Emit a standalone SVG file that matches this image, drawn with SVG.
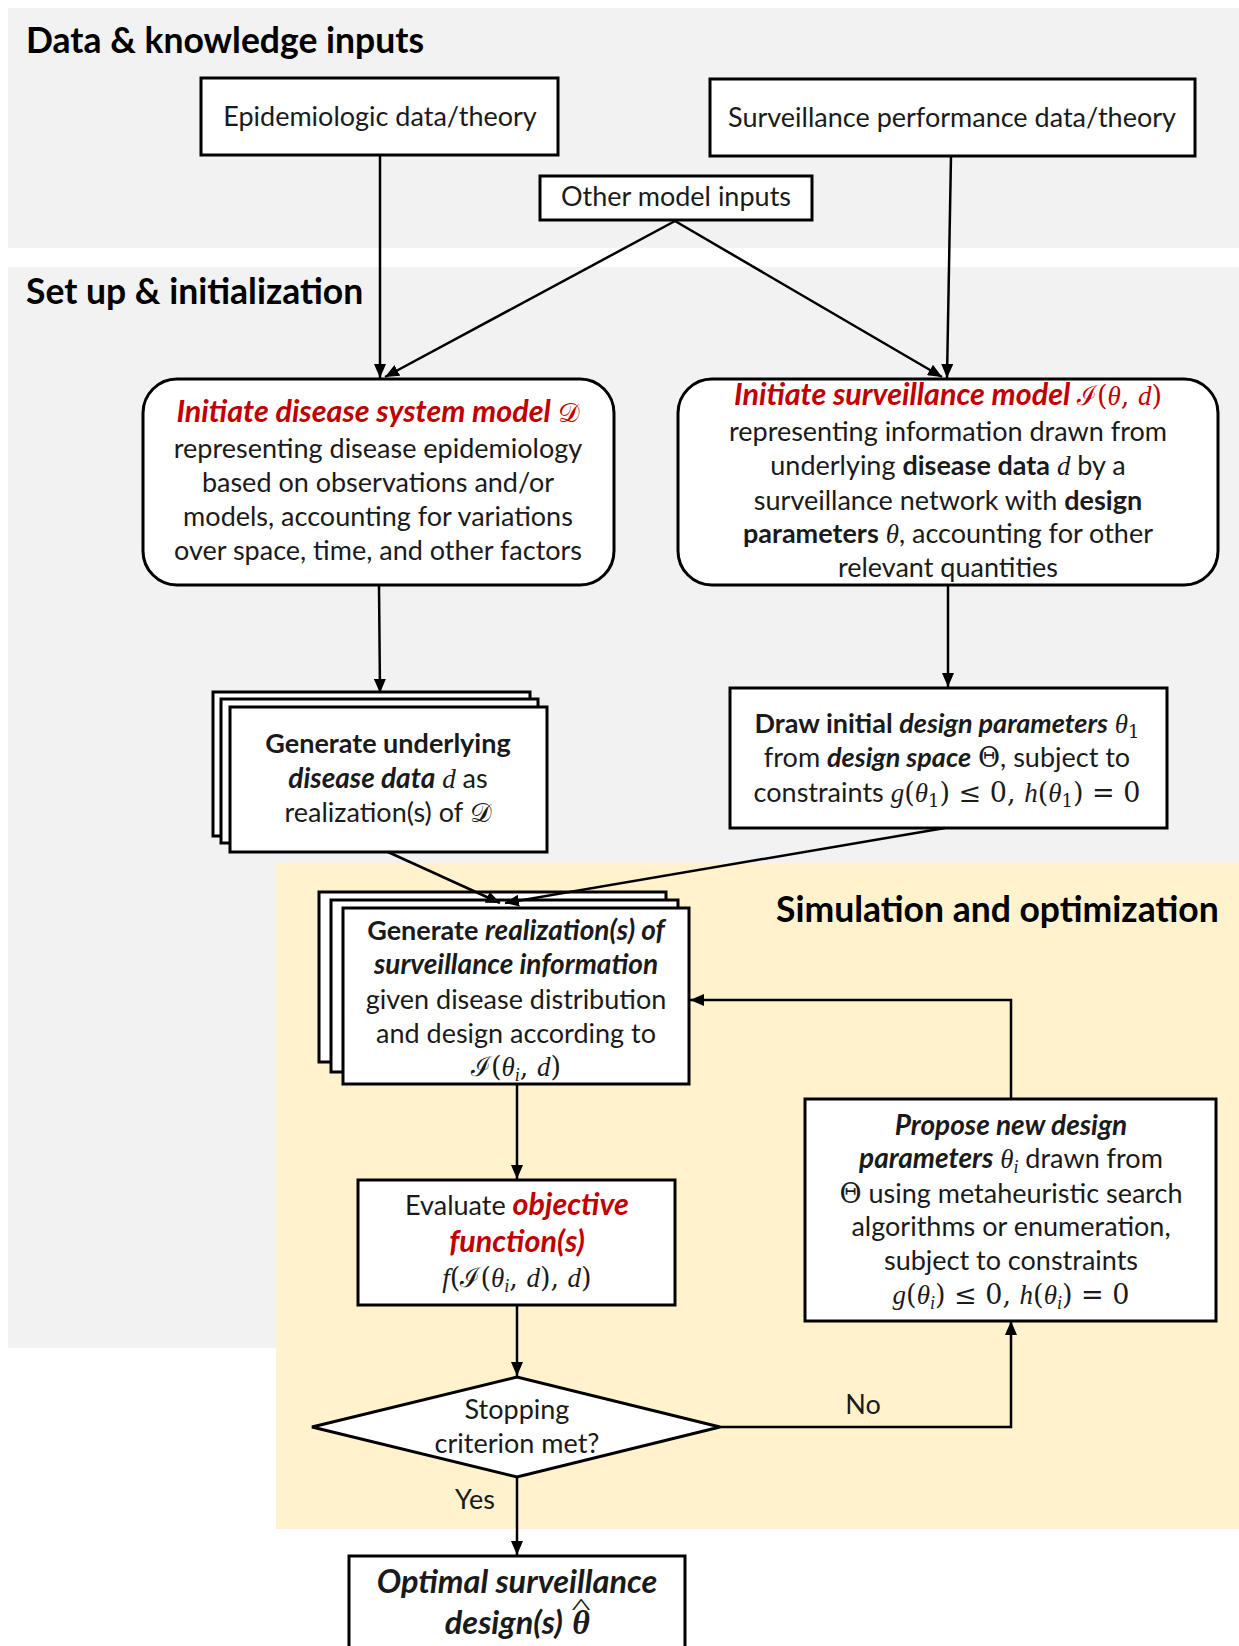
<svg xmlns="http://www.w3.org/2000/svg" width="1239" height="1646" viewBox="0 0 1239 1646">
<style>
text{font-family:Lato,'Liberation Sans',sans-serif;font-size:27px;fill:#1a1a1a;text-anchor:middle}
.t{font-size:35.5px;font-weight:700;text-anchor:start;fill:#000}
.b{font-weight:700}
.bi{font-weight:700;font-style:italic;font-size:28px}
.r{fill:#C00000}
.bi.r{font-size:30.5px}
.m{font-family:'Liberation Serif','DejaVu Serif',serif;font-style:italic;font-weight:400}
.s{font-family:'DejaVu Serif','Liberation Serif',serif;font-style:normal;font-weight:400}
.sub{font-size:18px}
.box{fill:#fff;stroke:#000;stroke-width:3}
.ln{fill:none;stroke:#000;stroke-width:2.5}
</style>
<defs>
<marker id="ah" markerUnits="userSpaceOnUse" viewBox="0 0 14 12" markerWidth="14" markerHeight="12" refX="14" refY="6" orient="auto">
<path d="M0,0 L14,6 L0,12 z" fill="#000"/>
</marker>
</defs>
<g id="panels">
<rect x="8" y="8" width="1231" height="240" fill="#F2F2F2"/>
<rect x="8" y="267" width="1231" height="1081" fill="#F2F2F2"/>
<rect x="276" y="863" width="963" height="666" fill="#FFF2CC"/>
<text class="t" x="26" y="53">Data &amp; knowledge inputs</text>
<text class="t" x="26" y="304">Set up &amp; initialization</text>
<text class="t" x="776" y="922">Simulation and optimization</text>
</g>
<g id="epi">
<rect class="box" x="201" y="78" width="357" height="77"/>
<text x="380" y="126">Epidemiologic data/theory</text>
</g>
<g id="survperf">
<rect class="box" x="710" y="79" width="485" height="77"/>
<text x="952" y="127">Surveillance performance data/theory</text>
</g>
<g id="other">
<rect class="box" x="540" y="176" width="272" height="44"/>
<text x="676" y="206">Other model inputs</text>
</g>
<g id="diseasemodel">
<rect class="box" x="143" y="379" width="471" height="206" rx="34"/>
<text x="378" y="422"><tspan class="bi r">Initiate disease system model </tspan><tspan class="s r">𝒟</tspan></text>
<text x="378" y="458">representing disease epidemiology</text>
<text x="378" y="492">based on observations and/or</text>
<text x="378" y="526">models, accounting for variations</text>
<text x="378" y="560">over space, time, and other factors</text>
</g>
<g id="survmodel">
<rect class="box" x="678" y="379" width="540" height="206" rx="34"/>
<text x="948" y="405"><tspan class="bi r">Initiate surveillance model </tspan><tspan class="s r">ℐ(</tspan><tspan class="m r">θ</tspan><tspan class="s r">, </tspan><tspan class="m r">d</tspan><tspan class="s r">)</tspan></text>
<text x="948" y="441">representing information drawn from</text>
<text x="948" y="475">underlying <tspan class="b">disease data</tspan> <tspan class="m">d</tspan> by a</text>
<text x="948" y="510">surveillance network with <tspan class="b">design</tspan></text>
<text x="948" y="543"><tspan class="b">parameters</tspan> <tspan class="m">θ</tspan>, accounting for other</text>
<text x="948" y="577">relevant quantities</text>
</g>
<g id="diseasedata">
<rect class="box" x="213" y="692" width="317" height="144"/>
<rect class="box" x="221" y="699" width="317" height="144"/>
<rect class="box" x="230" y="707" width="317" height="145"/>
<text x="388" y="753" class="b">Generate underlying</text>
<text x="388" y="788"><tspan class="bi">disease data</tspan> <tspan class="m">d</tspan> as</text>
<text x="388" y="822">realization(s) of <tspan class="s">𝒟</tspan></text>
</g>
<g id="drawinitial">
<rect class="box" x="730" y="688" width="437" height="140"/>
<text x="947" y="733"><tspan class="b">Draw initial </tspan><tspan class="bi" style="font-size:27px">design parameters</tspan> <tspan class="m">θ</tspan><tspan class="s sub" dy="5">1</tspan></text>
<text x="947" y="767">from <tspan class="bi" style="font-size:27px">design space</tspan> <tspan class="s">Θ</tspan>, subject to</text>
<text x="947" y="802">constraints <tspan class="m">g</tspan><tspan class="s">(</tspan><tspan class="m">θ</tspan><tspan class="s sub" dy="5">1</tspan><tspan class="s" dy="-5">) ≤ 0, </tspan><tspan class="m">h</tspan><tspan class="s">(</tspan><tspan class="m">θ</tspan><tspan class="s sub" dy="5">1</tspan><tspan class="s" dy="-5">) = 0</tspan></text>
</g>
<g id="survinfo">
<rect class="box" x="319" y="892" width="347" height="170"/>
<rect class="box" x="331" y="900" width="347" height="172"/>
<rect class="box" x="343" y="908" width="346" height="176"/>
<text x="516" y="940"><tspan class="b">Generate </tspan><tspan class="bi">realization(s) of</tspan></text>
<text x="516" y="974" class="bi">surveillance information</text>
<text x="516" y="1009">given disease distribution</text>
<text x="516" y="1043">and design according to</text>
<text x="516" y="1076"><tspan class="s">ℐ(</tspan><tspan class="m">θ</tspan><tspan class="m sub" dy="5">i</tspan><tspan class="s" dy="-5">, </tspan><tspan class="m">d</tspan><tspan class="s">)</tspan></text>
</g>
<g id="evaluate">
<rect class="box" x="358" y="1180" width="317" height="125"/>
<text x="517" y="1215">Evaluate <tspan class="bi r">objective</tspan></text>
<text x="517" y="1252" class="bi r">function(s)</text>
<text x="517" y="1287"><tspan class="m">f</tspan><tspan class="s">(ℐ(</tspan><tspan class="m">θ</tspan><tspan class="m sub" dy="5">i</tspan><tspan class="s" dy="-5">, </tspan><tspan class="m">d</tspan><tspan class="s">), </tspan><tspan class="m">d</tspan><tspan class="s">)</tspan></text>
</g>
<g id="propose">
<rect class="box" x="805" y="1099" width="411" height="222"/>
<text x="1011" y="1135" class="bi">Propose new design</text>
<text x="1011" y="1168"><tspan class="bi">parameters</tspan> <tspan class="m">θ</tspan><tspan class="m sub" dy="5">i</tspan><tspan dy="-5"> drawn from</tspan></text>
<text x="1011" y="1203"><tspan class="s">Θ</tspan> using metaheuristic search</text>
<text x="1011" y="1236">algorithms or enumeration,</text>
<text x="1011" y="1270">subject to constraints</text>
<text x="1011" y="1304"><tspan class="m">g</tspan><tspan class="s">(</tspan><tspan class="m">θ</tspan><tspan class="m sub" dy="5">i</tspan><tspan class="s" dy="-5">) ≤ 0, </tspan><tspan class="m">h</tspan><tspan class="s">(</tspan><tspan class="m">θ</tspan><tspan class="m sub" dy="5">i</tspan><tspan class="s" dy="-5">) = 0</tspan></text>
</g>
<g id="stopping">
<polygon class="box" points="312,1427 517,1377 720,1427 517,1477"/>
<text x="517" y="1419">Stopping</text>
<text x="517" y="1453">criterion met?</text>
</g>
<g id="optimal">
<rect class="box" x="349" y="1556" width="336" height="130"/>
<text x="517" y="1593" class="bi" style="font-size:32.5px">Optimal surveillance</text>
<text x="563" y="1634" class="bi" style="font-size:32.5px;text-anchor:end">design(s)</text>
<text x="581" y="1634" class="m" style="font-size:34px;font-weight:700">θ</text>
<text transform="translate(581,1614) scale(1.7,1)" class="m" style="font-size:24px;font-style:normal">^</text>
</g>
<g id="connectors">
<line class="ln" x1="380" y1="155" x2="380" y2="378" marker-end="url(#ah)"/>
<line class="ln" x1="675" y1="221" x2="385" y2="377" marker-end="url(#ah)"/>
<line class="ln" x1="951" y1="156" x2="947" y2="378" marker-end="url(#ah)"/>
<line class="ln" x1="675" y1="221" x2="942" y2="377" marker-end="url(#ah)"/>
<line class="ln" x1="379" y1="585" x2="380" y2="693" marker-end="url(#ah)"/>
<line class="ln" x1="948" y1="585" x2="948" y2="687" marker-end="url(#ah)"/>
<line class="ln" x1="388" y1="852" x2="500" y2="903" marker-end="url(#ah)"/>
<line class="ln" x1="945" y1="828" x2="505" y2="903" marker-end="url(#ah)"/>
<line class="ln" x1="517" y1="1084" x2="517" y2="1179" marker-end="url(#ah)"/>
<line class="ln" x1="517" y1="1305" x2="517" y2="1376" marker-end="url(#ah)"/>
<polyline class="ln" points="720,1427 1011,1427 1011,1321" marker-end="url(#ah)"/>
<polyline class="ln" points="1011,1099 1011,1000 690,1000" marker-end="url(#ah)"/>
<line class="ln" x1="517" y1="1477" x2="517" y2="1555" marker-end="url(#ah)"/>
<text x="863" y="1414">No</text>
<text x="475" y="1509">Yes</text>
</g>
</svg>
